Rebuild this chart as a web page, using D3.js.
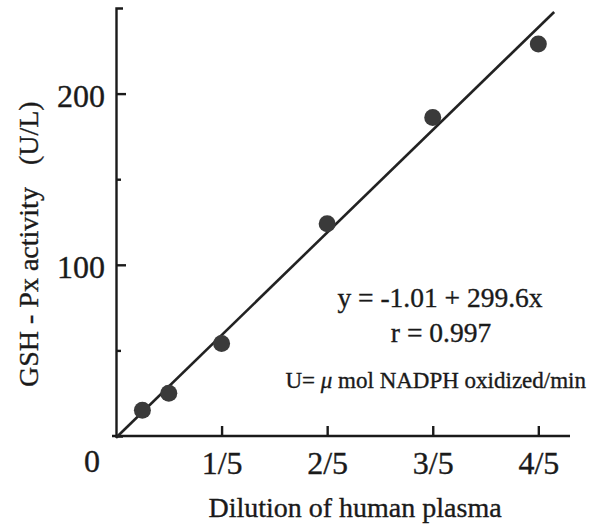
<!DOCTYPE html>
<html>
<head>
<meta charset="utf-8">
<script src="https://cdn.jsdelivr.net/npm/d3@7"></script>
<style>
  body { margin: 0; background: #fff; }
  text { font-family: "Liberation Serif", "Times New Roman", serif; fill: #1a1a1a; stroke: #1a1a1a; stroke-width: 0.35px; }
</style>
</head>
<body>
<div id="chart"></div>
<script>
// measured points
const dilution = [0.05, 0.1, 0.2, 0.4, 0.6, 0.8];
const activity = [15, 25, 54, 124, 186, 229];

// regression y = a + b x
const fitIntercept = -1.01;
const fitSlope = 299.6;
const fitRange = [0, 0.83];

const xTickValues = [0.2, 0.4, 0.6, 0.8];
const xTickLabels = ["1/5", "2/5", "3/5", "4/5"];
const yTickValues = [100, 200];
const yMinorTicks = [50, 150];

const W = 590, H = 527;

const svg = d3.select("#chart").append("svg")
  .attr("width", W)
  .attr("height", H);

const x = d3.scaleLinear().domain([0, 0.86]).range([116, 570]);
const y = d3.scaleLinear().domain([0, 250]).range([436, 8]);

//ejes
const xAxis = d3.axisBottom(x)
  .tickValues(xTickValues)
  .tickFormat((d, i) => xTickLabels[i])
  .tickSizeInner(-10)
  .tickSizeOuter(0)
  .tickPadding(15);

const gx = svg.append("g")
  .attr("transform", `translate(0, ${y(0)})`)
  .call(xAxis);
gx.select(".domain").attr("d", `M${x(0) - 4},0H${x(0.86)}`);

const yAxis = d3.axisLeft(y)
  .tickValues(yTickValues)
  .tickSizeInner(-10)
  .tickSizeOuter(-7)
  .tickPadding(11);

const gy = svg.append("g")
  .attr("transform", `translate(${x(0)}, 0)`)
  .call(yAxis);

const gyMinor = svg.append("g")
  .attr("transform", `translate(${x(0)}, 0)`)
  .call(d3.axisLeft(y).tickValues(yMinorTicks).tickSize(-5).tickFormat(""));
gyMinor.select(".domain").remove();

svg.selectAll(".domain, .tick line")
  .attr("stroke", "#1a1a1a")
  .attr("stroke-width", 2.4);

svg.selectAll(".tick text")
  .style("font-family", '"Liberation Serif", serif')
  .style("font-size", "32px")
  .attr("fill", "#1a1a1a");
gy.selectAll(".tick text").attr("dy", "0.41em");

// origin label
svg.append("text")
  .attr("x", x(0) - 24)
  .attr("y", 472)
  .attr("text-anchor", "middle")
  .style("font-size", "32px")
  .text("0");

// fitted line
const line = d3.line()
  .x(d => x(d))
  .y(d => y(fitIntercept + fitSlope * d));

svg.append("path")
  .datum(fitRange)
  .attr("d", line)
  .attr("fill", "none")
  .attr("stroke", "#222")
  .attr("stroke-width", 2.6);

// points
svg.selectAll(".dot")
  .data(dilution.map((d, i) => ({ x: d, y: activity[i] })))
  .enter()
  .append("circle")
  .attr("class", "dot")
  .attr("cx", d => x(d.x))
  .attr("cy", d => y(d.y))
  .attr("r", 8.5)
  .attr("fill", "#3a3a3a");

// labels
svg.append("text")
  .attr("x", 355)
  .attr("y", 517)
  .attr("text-anchor", "middle")
  .style("font-size", "28px")
  .text("Dilution of human plasma");

const yl = svg.append("text")
  .attr("transform", "translate(38, 387) rotate(-90)")
  .style("font-size", "28px");
yl.append("tspan").text("GSH - Px activity");
yl.append("tspan").attr("dx", 22).text("(U/L)");

svg.append("text")
  .attr("x", 440)
  .attr("y", 307)
  .attr("text-anchor", "middle")
  .style("font-size", "27.5px")
  .text("y = -1.01 + 299.6x");

svg.append("text")
  .attr("x", 441)
  .attr("y", 342)
  .attr("text-anchor", "middle")
  .style("font-size", "27.5px")
  .text("r = 0.997");

const unit = svg.append("text")
  .attr("x", 586)
  .attr("y", 388)
  .attr("text-anchor", "end")
  .style("font-size", "23px");
unit.append("tspan").text("U= ");
unit.append("tspan").style("font-style", "italic").text("μ");
unit.append("tspan").text(" mol NADPH oxidized/min");
</script>
</body>
</html>
